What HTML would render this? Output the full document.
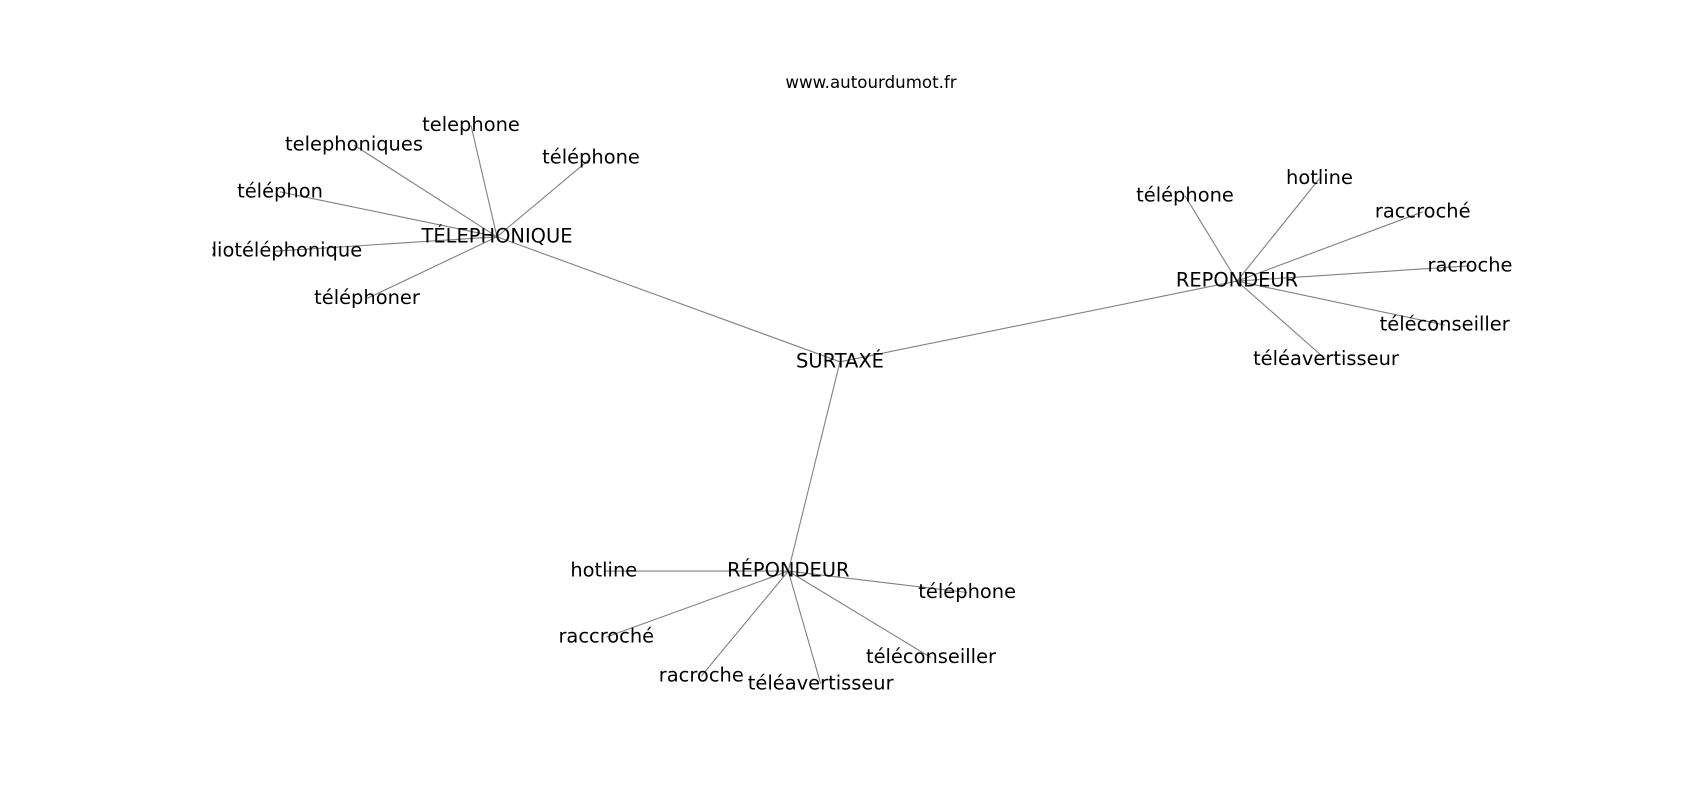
<!DOCTYPE html>
<html>
<head>
<meta charset="utf-8">
<style>
  html, body { margin: 0; padding: 0; background: #ffffff; }
  svg { display: block; }
  text { font-family: "DejaVu Sans", "Liberation Sans", sans-serif; fill: #000; }
  .lbl { font-size: 19.44px; text-anchor: middle; }
  .ttl { font-size: 16.67px; text-anchor: middle; }
  line { stroke: #808080; stroke-width: 1.1; }
</style>
</head>
<body>
<svg width="1700" height="800" viewBox="0 0 1700 800" xmlns="http://www.w3.org/2000/svg">
  <defs>
    <clipPath id="ax">
      <rect x="212.5" y="96" width="1317.5" height="616"/>
    </clipPath>
  </defs>
  <rect x="0" y="0" width="1700" height="800" fill="#fff"/>

  <text class="ttl" x="871" y="88">www.autourdumot.fr</text>

  <g clip-path="url(#ax)">
    <!-- center edges -->
    <line x1="840" y1="361.8" x2="497" y2="236.8"/>
    <line x1="840" y1="361.8" x2="1237" y2="281.1"/>
    <line x1="840" y1="361.8" x2="788.3" y2="571.1"/>

    <!-- TÉLEPHONIQUE edges -->
    <line x1="497" y1="236.8" x2="471" y2="125.5"/>
    <line x1="497" y1="236.8" x2="354" y2="145.1"/>
    <line x1="497" y1="236.8" x2="591" y2="158.1"/>
    <line x1="497" y1="236.8" x2="280" y2="191.8"/>
    <line x1="497" y1="236.8" x2="273.5" y2="251.3"/>
    <line x1="497" y1="236.8" x2="367" y2="298.5"/>

    <!-- REPONDEUR edges -->
    <line x1="1237" y1="281.1" x2="1185" y2="195.8"/>
    <line x1="1237" y1="281.1" x2="1319.5" y2="178.5"/>
    <line x1="1237" y1="281.1" x2="1422.7" y2="211.8"/>
    <line x1="1237" y1="281.1" x2="1470" y2="265.8"/>
    <line x1="1237" y1="281.1" x2="1444.7" y2="325.1"/>
    <line x1="1237" y1="281.1" x2="1326" y2="359.5"/>

    <!-- RÉPONDEUR edges -->
    <line x1="788.3" y1="571.1" x2="603.8" y2="571.1"/>
    <line x1="788.3" y1="571.1" x2="606.3" y2="637.1"/>
    <line x1="788.3" y1="571.1" x2="701.3" y2="676.1"/>
    <line x1="788.3" y1="571.1" x2="820.7" y2="683.8"/>
    <line x1="788.3" y1="571.1" x2="931" y2="657.6"/>
    <line x1="788.3" y1="571.1" x2="967.2" y2="592.5"/>

    <!-- labels -->
    <text class="lbl" x="840" y="367.3">SURTAXÉ</text>

    <text class="lbl" x="497" y="242.3">TÉLEPHONIQUE</text>
    <text class="lbl" x="471" y="131">telephone</text>
    <text class="lbl" x="354" y="150.6">telephoniques</text>
    <text class="lbl" x="591" y="163.6">téléphone</text>
    <text class="lbl" x="280" y="197.3">téléphon</text>
    <text class="lbl" x="273.5" y="256.7">radiotéléphonique</text>
    <text class="lbl" x="367" y="304">téléphoner</text>

    <text class="lbl" x="1237" y="286.6">REPONDEUR</text>
    <text class="lbl" x="1185" y="201.3">téléphone</text>
    <text class="lbl" x="1319.5" y="184">hotline</text>
    <text class="lbl" x="1422.7" y="217.3">raccroché</text>
    <text class="lbl" x="1470" y="271.3">racroche</text>
    <text class="lbl" x="1444.7" y="330.6">téléconseiller</text>
    <text class="lbl" x="1326" y="365">téléavertisseur</text>

    <text class="lbl" x="788.3" y="576.6">RÉPONDEUR</text>
    <text class="lbl" x="603.8" y="576.6">hotline</text>
    <text class="lbl" x="606.3" y="642.6">raccroché</text>
    <text class="lbl" x="701.3" y="681.6">racroche</text>
    <text class="lbl" x="820.7" y="689.3">téléavertisseur</text>
    <text class="lbl" x="931" y="663.1">téléconseiller</text>
    <text class="lbl" x="967.2" y="598">téléphone</text>
  </g>
</svg>
</body>
</html>
